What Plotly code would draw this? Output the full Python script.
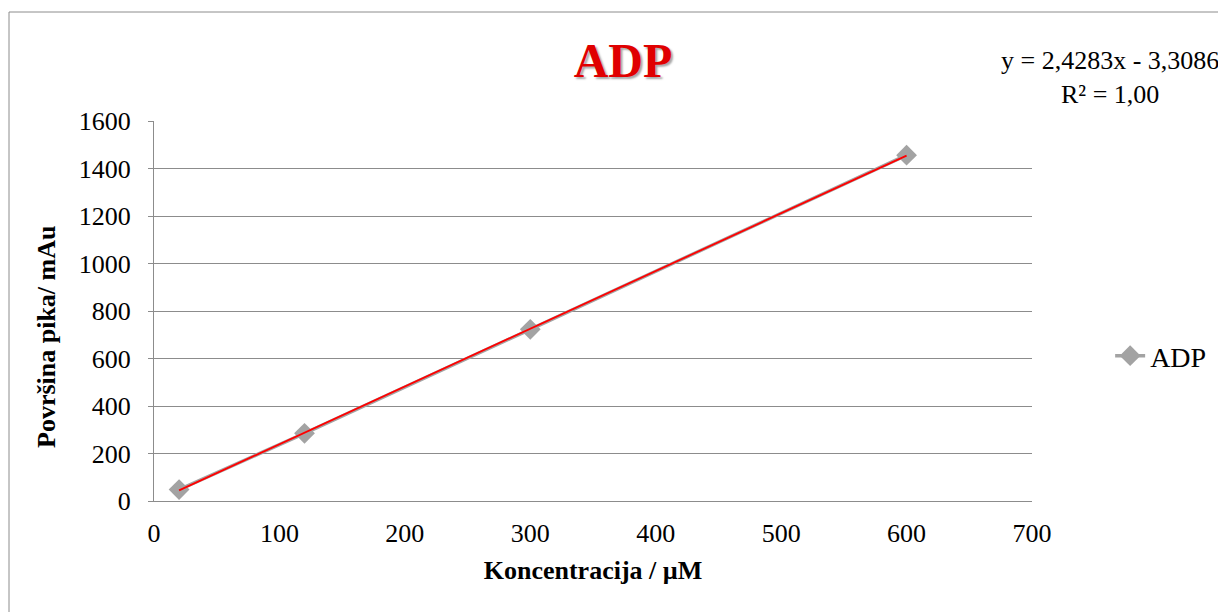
import numpy as np
import plotly.graph_objects as go

# Data
concentration = [20, 120, 300, 600]          # µM
peak_area = [48, 285, 723, 1456]              # mAu
series_name = "ADP"
x_ticks = [0, 100, 200, 300, 400, 500, 600, 700]
y_ticks = [0, 200, 400, 600, 800, 1000, 1200, 1400, 1600]
equation_text = "y = 2,4283x - 3,3086<br>R² = 1,00"

FONT = "Liberation Serif, Times New Roman, serif"

# page is rendered with an 8px body margin; compensate
OFF = 8
W, H = 1226 - OFF, 612 - OFF
# plot area in page pixels
PX0, PX1, PY0, PY1 = 154, 1032, 121, 501


def px(xp):
    return (xp - PX0) / (PX1 - PX0)


def py(yp):
    return (PY1 - yp) / (PY1 - PY0)


# linear trendline computed from the data
slope, intercept = np.polyfit(concentration, peak_area, 1)
trend_x = [min(concentration), max(concentration)]
trend_y = [slope * v + intercept for v in trend_x]

fig = go.Figure()
fig.add_trace(go.Scatter(
    x=concentration, y=peak_area, mode="lines+markers", name=series_name,
    line=dict(color="#a3a3a3", width=3.5),
    marker=dict(symbol="diamond", size=16, color="#a3a3a3"),
))
fig.add_trace(go.Scatter(
    x=trend_x, y=trend_y, mode="lines", showlegend=False,
    line=dict(color="#ff0000", width=1.8), hoverinfo="skip",
))

fig.update_layout(
    width=W, height=H,
    margin=dict(l=PX0 - OFF, r=W - (PX1 - OFF), t=PY0 - OFF, b=H - (PY1 - OFF)),
    paper_bgcolor="white", plot_bgcolor="white",
    font=dict(family=FONT, size=26, color="black"),
    title=dict(
        text="<b>ADP</b>", xref="container", x=(623 - OFF) / W, xanchor="center",
        yref="container", y=1 - (60 - OFF) / H, yanchor="middle",
        font=dict(family=FONT, size=48, color="#e00000",
                  shadow="2px 2px 2px rgba(0,0,0,0.35)"),
    ),
    xaxis=dict(
        range=[0, 700], tickvals=x_ticks, ticktext=[str(v) for v in x_ticks],
        showgrid=False, zeroline=False, showline=True, linecolor="#8c8c8c", linewidth=1,
        ticks="", ticklabelstandoff=9,
        title=dict(text="<b>Koncentracija / µM</b>", font=dict(size=26), standoff=13),
        tickfont=dict(size=26),
    ),
    yaxis=dict(
        range=[0, 1600], tickvals=y_ticks, ticktext=[str(v) for v in y_ticks],
        showgrid=True, gridcolor="#8c8c8c", gridwidth=1, zeroline=False,
        showline=True, linecolor="#8c8c8c", linewidth=1,
        ticks="outside", ticklen=5, tickcolor="#8c8c8c", ticklabelstandoff=12,
        tickfont=dict(size=26),
    ),
    legend=dict(
        x=1.089, xanchor="left", y=py(356), yanchor="middle",
        font=dict(size=28), bgcolor="rgba(0,0,0,0)",
    ),
    showlegend=True,
)

fig.add_annotation(
    text="<b>Površina pika/ mAu</b>", textangle=-90,
    xref="paper", yref="paper", x=px(46), y=py(337),
    xanchor="center", yanchor="middle", showarrow=False,
    font=dict(family=FONT, size=26, color="black"),
)
fig.add_annotation(
    text=equation_text, align="center",
    xref="paper", yref="paper", x=px(1110), y=py(77),
    xanchor="center", yanchor="middle", showarrow=False,
    font=dict(family=FONT, size=26, color="black"),
)
fig.add_shape(
    type="rect", xref="paper", yref="paper",
    x0=px(9), x1=px(1240), y0=py(640), y1=py(12),
    line=dict(color="#8c8c8c", width=1), fillcolor="rgba(0,0,0,0)", layer="below",
)

fig.write_html("out.html")
